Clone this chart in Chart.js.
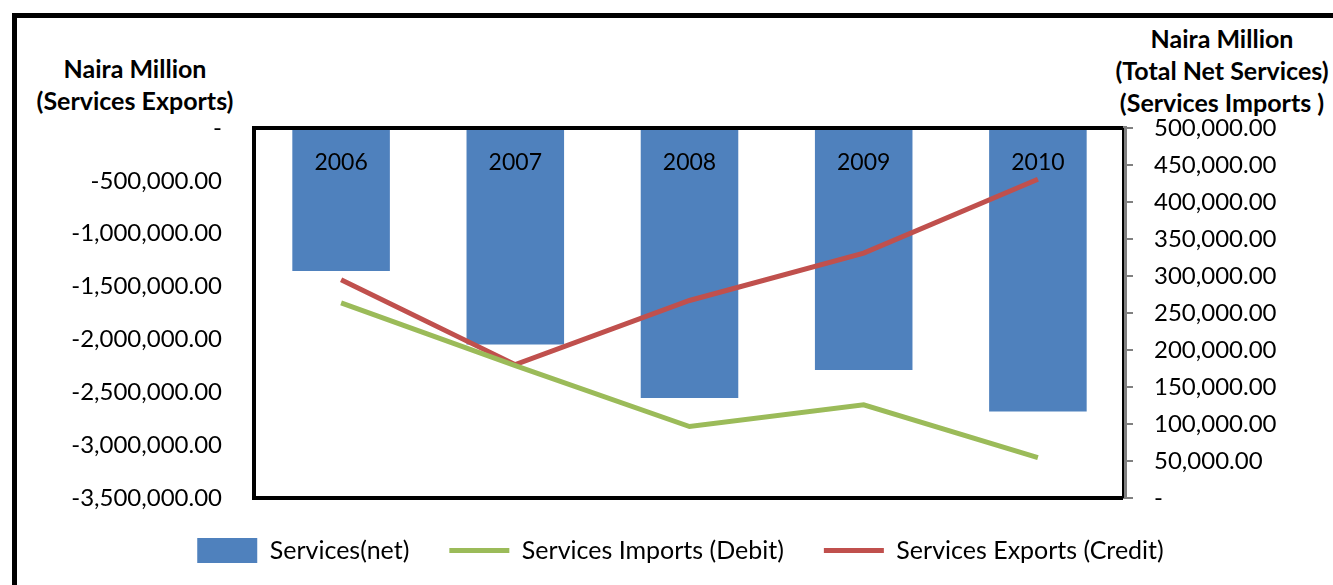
<!DOCTYPE html>
<html lang="en">
<head>
    <meta charset="UTF-8">
    <title>Services Balance</title>
    <script src="https://cdn.jsdelivr.net/npm/chart.js"></script>
    <style>
        html, body {
            margin: 0;
            padding: 0;
            background: white;
            overflow: hidden;
        }
        .wrap {
            position: relative;
            width: 1333px;
            height: 585px;
        }
        .frame {
            position: absolute;
            left: 12px;
            top: 13px;
            width: 1400px;
            height: 700px;
            border: 5px solid black;
        }
        canvas {
            position: absolute;
            left: 0;
            top: 0;
        }
        .axtitle {
            position: absolute;
            font-family: Lato, sans-serif;
            font-weight: bold;
            font-size: 25px;
            line-height: 32px;
            text-align: center;
            color: black;
        }
    </style>
</head>
<body>
    <div class="wrap">
        <div class="frame"></div>
        <div class="axtitle" style="left:15px; top:52px; width:240px;">Naira Million<br>(Services Exports)</div>
        <div class="axtitle" style="left:1092px; top:22px; width:260px;">Naira Million<br>(Total Net Services)<br>(Services Imports )</div>
        <canvas id="chart" width="1333" height="585"></canvas>
    </div>

    <script>
        const years = ['2006', '2007', '2008', '2009', '2010'];
        const servicesNet = [-1353500, -2048800, -2554300, -2288700, -2681400];
        const servicesImports = [263800, 179000, 96600, 126000, 54600];
        const servicesExports = [294900, 180200, 266900, 331000, 430800];

        const font = 'Lato, sans-serif';

        function fmt(v) {
            if (v === 0) return '-';
            return v.toLocaleString('en-US', { minimumFractionDigits: 2, maximumFractionDigits: 2 });
        }

        // year labels inside the plot, under the top edge
        const yearLabels = {
            id: 'yearLabels',
            afterDatasetsDraw(chart) {
                const x = chart.scales.x;
                const c = chart.ctx;
                c.save();
                c.font = '23px ' + font;
                c.fillStyle = 'black';
                c.textAlign = 'center';
                c.textBaseline = 'middle';
                years.forEach((y, i) => {
                    c.fillText(y, x.getPixelForValue(i), chart.chartArea.top + 35);
                });
                c.restore();
            }
        };

        // plot area border
        const plotBorder = {
            id: 'plotBorder',
            afterDraw(chart) {
                const a = chart.chartArea;
                const c = chart.ctx;
                c.save();
                c.strokeStyle = 'black';
                c.lineWidth = 4;
                c.beginPath();
                c.moveTo(a.right - 2, a.top);
                c.lineTo(a.left, a.top);
                c.lineTo(a.left, a.bottom);
                c.lineTo(a.right - 2, a.bottom);
                c.stroke();
                c.lineWidth = 2;
                c.beginPath();
                c.moveTo(a.right - 2, a.top);
                c.lineTo(a.right - 2, a.bottom);
                c.stroke();
                c.restore();
            }
        };

        new Chart(document.getElementById('chart'), {
            type: 'bar',
            data: {
                labels: years,
                datasets: [
                    {
                        label: 'Services(net)',
                        data: servicesNet,
                        backgroundColor: '#4F81BD',
                        yAxisID: 'y',
                        order: 1,
                        barPercentage: 0.56,
                        categoryPercentage: 1,
                        pointStyle: 'rect'
                    },
                    {
                        label: 'Services Imports (Debit)',
                        type: 'line',
                        data: servicesImports,
                        borderColor: '#9BBB59',
                        backgroundColor: '#9BBB59',
                        borderWidth: 5,
                        pointRadius: 0,
                        yAxisID: 'y1',
                        order: 0,
                        pointStyle: 'line'
                    },
                    {
                        label: 'Services Exports (Credit)',
                        type: 'line',
                        data: servicesExports,
                        borderColor: '#C0504D',
                        backgroundColor: '#C0504D',
                        borderWidth: 5,
                        pointRadius: 0,
                        yAxisID: 'y1',
                        order: 0,
                        pointStyle: 'line'
                    }
                ]
            },
            options: {
                responsive: false,
                animation: false,
                layout: { padding: { top: 128, left: 28, right: 0, bottom: 12 } },
                plugins: {
                    tooltip: { enabled: false },
                    legend: {
                        position: 'bottom',
                        labels: {
                            usePointStyle: true,
                            pointStyleWidth: 60,
                            color: 'black',
                            font: { family: font, size: 25 },
                            padding: 40,
                            sort: (a, b) => a.datasetIndex - b.datasetIndex
                        }
                    }
                },
                scales: {
                    x: {
                        display: false,
                        offset: true
                    },
                    y: {
                        position: 'left',
                        min: -3500000,
                        max: 0,
                        afterFit: s => { s.width = 226; },
                        ticks: {
                            stepSize: 500000,
                            padding: 32,
                            color: 'black',
                            font: { family: font, size: 24 },
                            callback: v => fmt(v)
                        },
                        grid: { display: false, drawTicks: false },
                        border: { display: false }
                    },
                    y1: {
                        position: 'right',
                        min: 0,
                        max: 500000,
                        afterFit: s => { s.width = 208; },
                        ticks: {
                            stepSize: 50000,
                            padding: 21,
                            color: 'black',
                            font: { family: font, size: 24 },
                            callback: v => fmt(v)
                        },
                        grid: { drawOnChartArea: false, tickLength: 8, color: '#808080', lineWidth: 2 },
                        border: { display: true, color: '#808080', width: 4 }
                    }
                }
            },
            plugins: [yearLabels, plotBorder]
        });
    </script>
</body>
</html>
